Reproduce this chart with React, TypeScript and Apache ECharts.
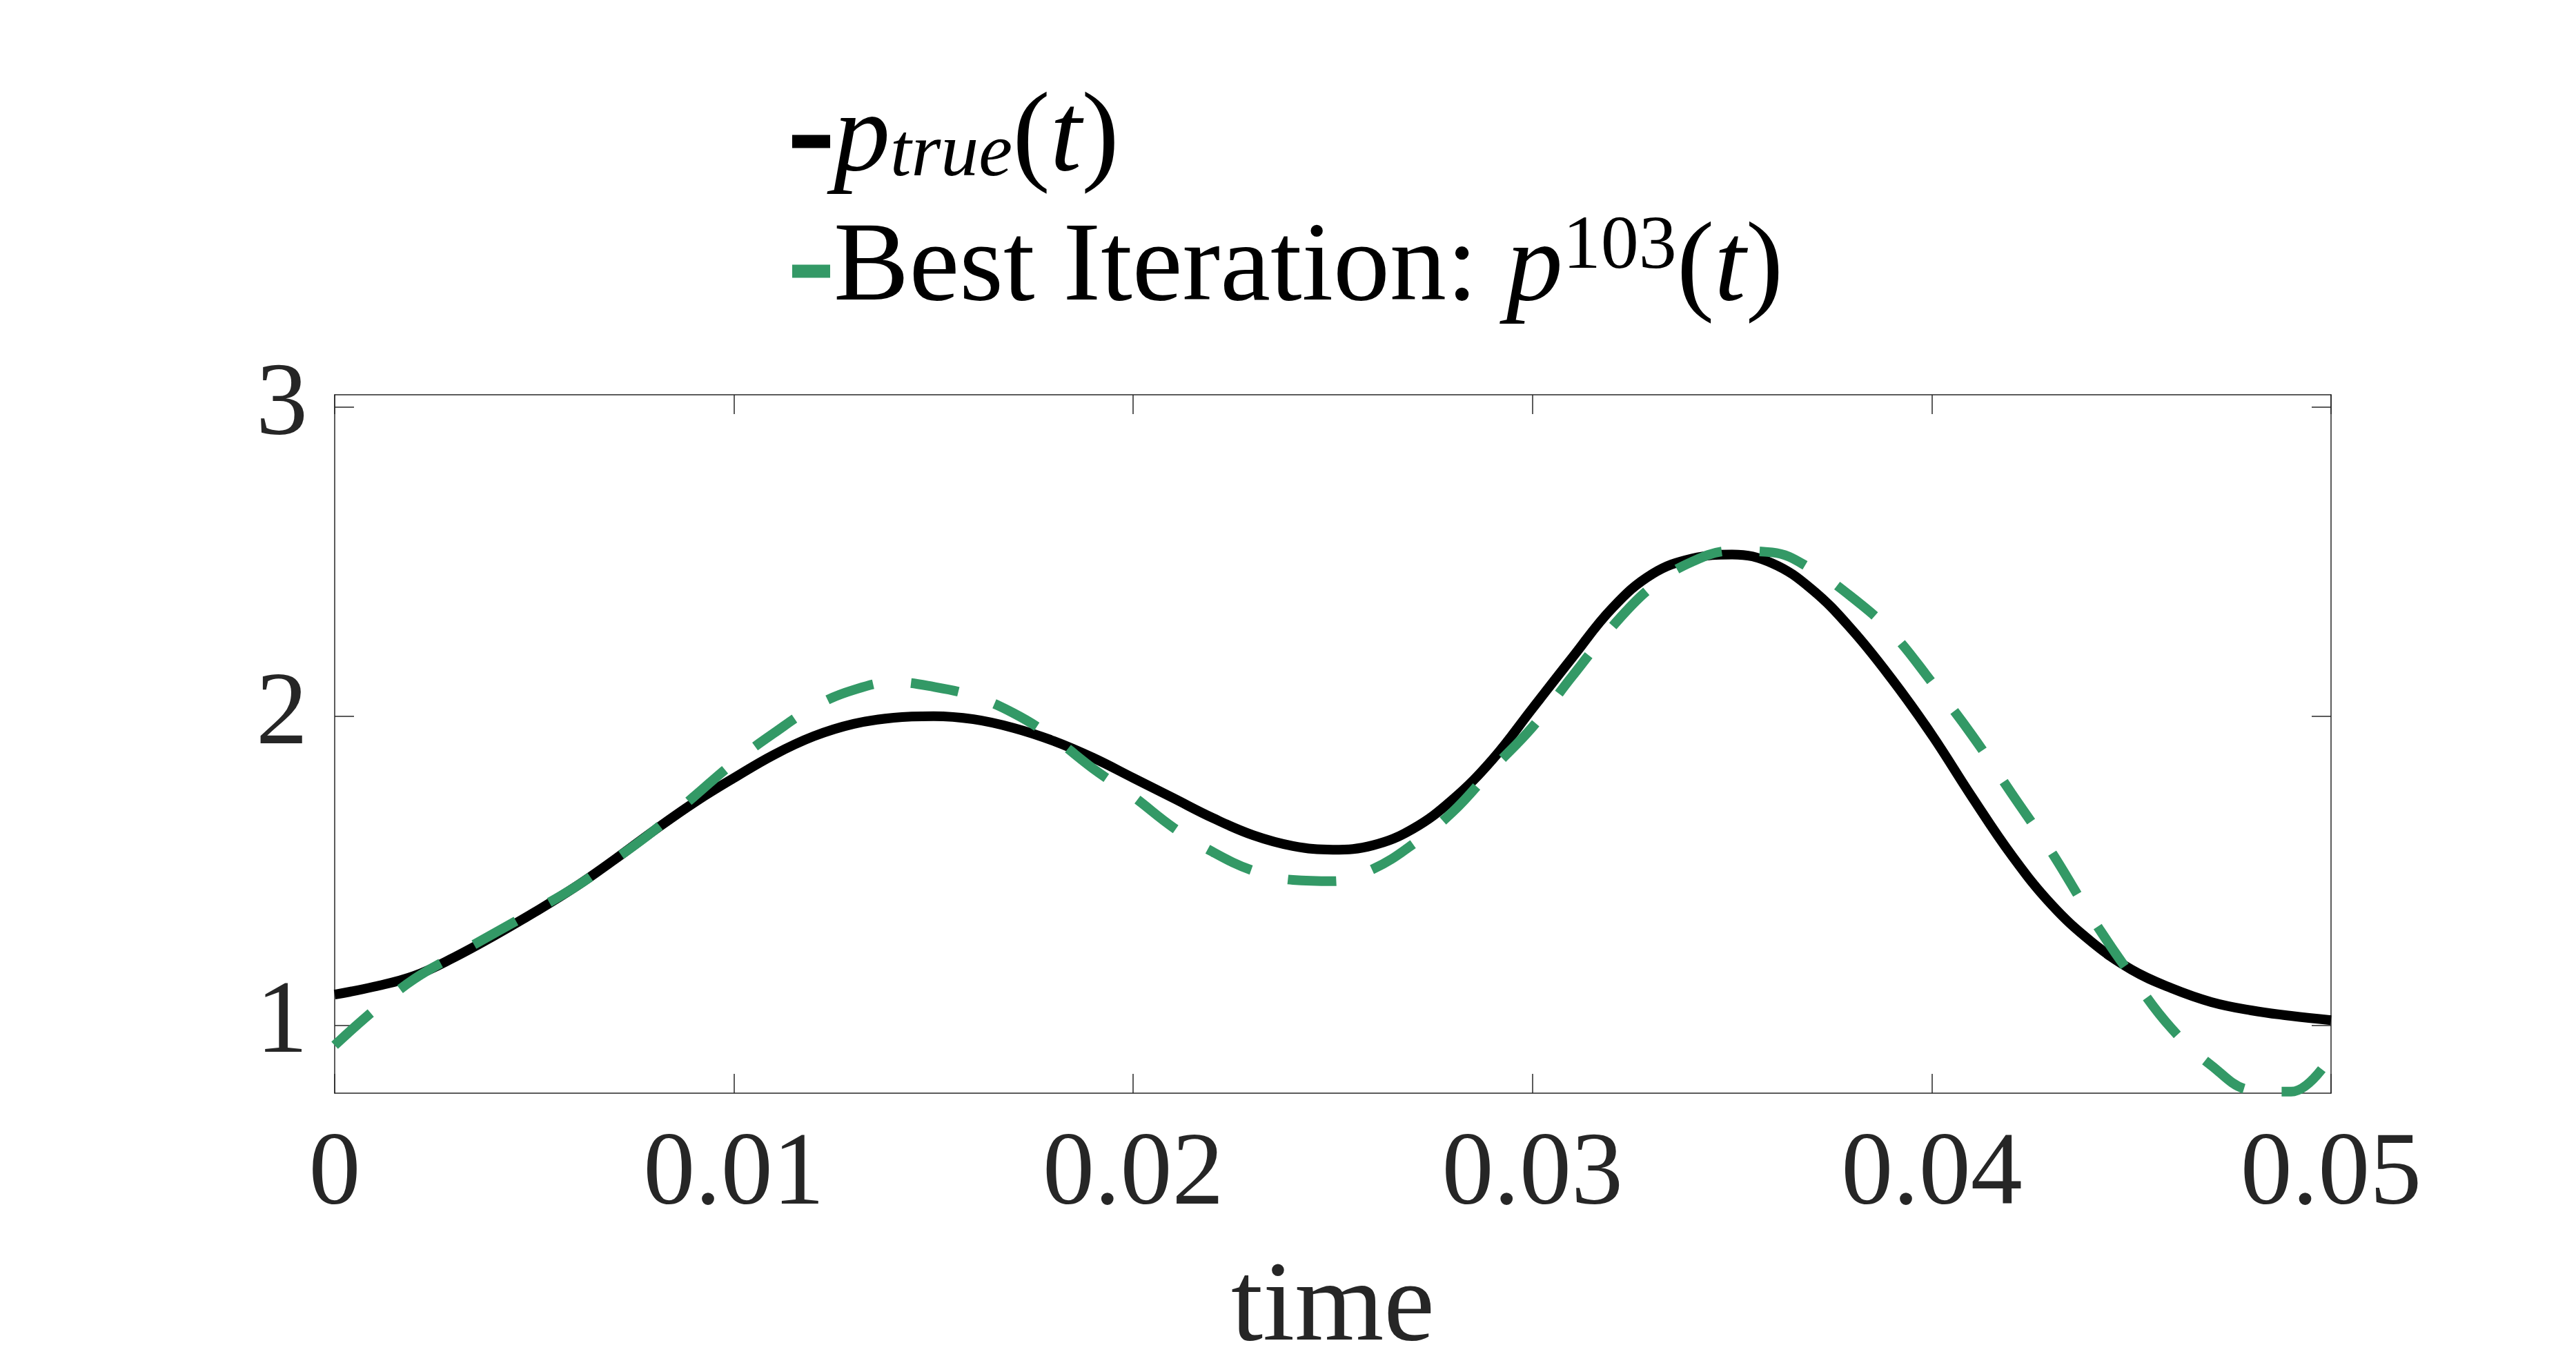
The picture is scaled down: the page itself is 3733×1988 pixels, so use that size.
import React, { useEffect, useRef } from "react";
import * as echarts from "echarts";

const timeValues = [
  0, 0.001, 0.002, 0.003, 0.004, 0.005, 0.006, 0.007, 0.008, 0.009,
  0.01, 0.011, 0.012, 0.013, 0.014, 0.015, 0.016, 0.017, 0.018, 0.019,
  0.02, 0.021, 0.022, 0.023, 0.024, 0.025, 0.026, 0.027, 0.028, 0.029,
  0.03, 0.031, 0.032, 0.033, 0.034, 0.035, 0.036, 0.037, 0.038, 0.039,
  0.04, 0.041, 0.042, 0.043, 0.044, 0.045, 0.046, 0.047, 0.048, 0.049,
  0.05,
];

const trueValues = [
  1.099, 1.125, 1.16, 1.22, 1.29, 1.365, 1.445, 1.535, 1.63, 1.72,
  1.8, 1.875, 1.935, 1.975, 1.995, 2.0, 1.99, 1.962, 1.92, 1.865,
  1.8, 1.735, 1.67, 1.615, 1.58, 1.568, 1.582, 1.635, 1.73, 1.86,
  2.025, 2.19, 2.35, 2.46, 2.51, 2.523, 2.495, 2.41, 2.28, 2.12,
  1.94, 1.74, 1.55, 1.39, 1.27, 1.18, 1.12, 1.075, 1.048, 1.03,
  1.016,
];

const bestValues = [
  0.935, 1.05, 1.15, 1.225, 1.298, 1.37, 1.445, 1.535, 1.63, 1.74,
  1.85, 1.945, 2.03, 2.085, 2.11, 2.095, 2.065, 2.01, 1.93, 1.83,
  1.74, 1.64, 1.56, 1.5, 1.47, 1.466, 1.505, 1.585, 1.69, 1.83,
  1.965, 2.13, 2.29, 2.42, 2.5, 2.535, 2.53, 2.475, 2.385, 2.27,
  2.11, 1.94, 1.75, 1.56, 1.35, 1.16, 0.99, 0.87, 0.79, 0.785,
  0.9,
];

const yTicks = [1, 2, 3];
const seriesNames = ["p_true(t)", "Best Iteration: p^103(t)"];
const legendLabels: Record<string, string> = {
  "p_true(t)": "{i|p}{sub|true}{n|(}{i|t}{n|)}",
  "Best Iteration: p^103(t)": "{n|Best Iteration: }{i|p}{sup|103}{n|(}{i|t}{n|)}",
};

const SERIF = "'Liberation Serif', 'Times New Roman', serif";
const AXIS_COLOR = "#262626";
const GREEN = "#339966";
// legend swatch: a 55x19 bar whose box is stretched upward by an invisible point,
// so that the visible bar sits a little below the text's centre line
const LEGEND_ICON = "path://M0,0L0.01,0L0.01,0.01ZM0,30L55,30L55,49L0,49Z";

export default function App() {
  const ref = useRef<HTMLDivElement>(null);

  useEffect(() => {
    if (!ref.current) return;
    const chart = echarts.init(ref.current, null, { renderer: "svg" });

    const tickLabel = {
      fontFamily: SERIF,
      fontSize: 150,
      color: AXIS_COLOR,
    };

    const LH = 164;
    const option: any = {
      animation: false,
      backgroundColor: "#ffffff",
      grid: { left: 485, right: 355, top: 572, bottom: 404, containLabel: false },
      legend: {
        orient: "vertical",
        left: 1148,
        top: 108,
        padding: 0,
        itemGap: 24,
        itemWidth: 55,
        itemHeight: 49,
        icon: LEGEND_ICON,
        selectedMode: false,
        itemStyle: { borderWidth: 0 },
        data: seriesNames,
        formatter: (name: string) => legendLabels[name] || name,
        textStyle: {
          fontFamily: SERIF,
          fontSize: 164,
          color: "#000",
          lineHeight: LH,
          rich: {
            n: { fontFamily: SERIF, fontSize: 164, lineHeight: LH, verticalAlign: "middle", color: "#000" },
            i: { fontFamily: SERIF, fontSize: 164, fontStyle: "italic", lineHeight: LH, verticalAlign: "middle", color: "#000" },
            sub: { fontFamily: SERIF, fontSize: 110, fontStyle: "italic", lineHeight: 80, verticalAlign: "bottom", color: "#000" },
            sup: { fontFamily: SERIF, fontSize: 110, lineHeight: 86, verticalAlign: "top", color: "#000" },
          },
        },
      },
      xAxis: [
        {
          type: "value",
          min: 0,
          max: 0.05,
          interval: 0.01,
          position: "bottom",
          name: "time",
          nameLocation: "middle",
          nameGap: 218,
          nameTextStyle: { fontFamily: SERIF, fontSize: 166, color: AXIS_COLOR },
          axisLine: { show: true, onZero: false, lineStyle: { color: AXIS_COLOR, width: 1.5 } },
          axisTick: { show: true, inside: true, length: 28, lineStyle: { color: AXIS_COLOR, width: 1.5 } },
          axisLabel: {
            ...tickLabel,
            margin: 34,
            formatter: (v: number) => (v === 0 ? "0" : v.toFixed(2)),
          },
          splitLine: { show: false },
        },
        {
          type: "value",
          min: 0,
          max: 0.05,
          interval: 0.01,
          position: "top",
          axisLine: { show: true, onZero: false, lineStyle: { color: AXIS_COLOR, width: 1.5 } },
          axisTick: { show: true, inside: true, length: 28, lineStyle: { color: AXIS_COLOR, width: 1.5 } },
          axisLabel: { show: false },
          splitLine: { show: false },
        },
      ],
      yAxis: [
        {
          type: "value",
          min: 0.78,
          max: 3.04,
          position: "left",
          axisLine: { show: true, onZero: false, lineStyle: { color: AXIS_COLOR, width: 1.5 } },
          axisTick: { show: true, inside: true, length: 28, customValues: yTicks, lineStyle: { color: AXIS_COLOR, width: 1.5 } },
          axisLabel: {
            ...tickLabel,
            margin: 39,
            verticalAlign: "bottom",
            lineHeight: 24,
            customValues: yTicks,
            formatter: (v: number) => String(v),
          },
          splitLine: { show: false },
        },
        {
          type: "value",
          min: 0.78,
          max: 3.04,
          position: "right",
          axisLine: { show: true, onZero: false, lineStyle: { color: AXIS_COLOR, width: 1.5 } },
          axisTick: { show: true, inside: true, length: 28, customValues: yTicks, lineStyle: { color: AXIS_COLOR, width: 1.5 } },
          axisLabel: { show: false },
          splitLine: { show: false },
        },
      ],
      series: [
        {
          name: seriesNames[0],
          type: "line",
          xAxisIndex: 0,
          yAxisIndex: 0,
          data: timeValues.map((t, i) => [t, trueValues[i]]),
          symbol: "none",
          showSymbol: false,
          smooth: 0.4,
          color: "#000000",
          lineStyle: { color: "#000000", width: 14, join: "round" },
          z: 2,
        },
        {
          name: seriesNames[1],
          type: "line",
          xAxisIndex: 0,
          yAxisIndex: 0,
          data: timeValues.map((t, i) => [t, bestValues[i]]),
          symbol: "none",
          showSymbol: false,
          smooth: 0.4,
          color: GREEN,
          lineStyle: { color: GREEN, width: 14, type: [70, 55], cap: "butt" },
          z: 3,
        },
      ],
    };

    chart.setOption(option);
    return () => chart.dispose();
  }, []);

  return (
    <div
      ref={ref}
      style={{ position: "fixed", left: 0, top: 0, width: "100vw", height: "100vh", background: "#fff" }}
    />
  );
}
